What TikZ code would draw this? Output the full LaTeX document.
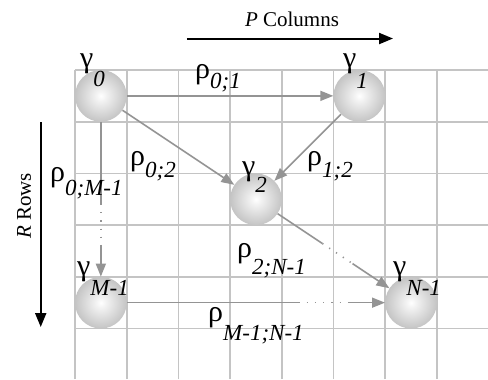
\documentclass[tikz,border=0pt]{standalone}
\usepackage{fontspec}
\setmainfont{Liberation Serif}
\usetikzlibrary{arrows.meta,calc}

\pgfdeclareradialshading{sphere}{\pgfpoint{0bp}{0bp}}{color(0bp)=(white); color(5bp)=(white!95!black); color(26bp)=(white!76!black); color(50bp)=(white!56!black)}
\colorlet{gridgray}{black!23}
\colorlet{linkgray}{black!42}
% greek symbol with a dropped italic index
\newcommand{\sym}[3]{{\fontsize{30}{30}\selectfont #1}\raisebox{-#3pt}{\fontsize{23}{23}\selectfont\itshape #2}}

\tikzset{
  ball/.style={circle,minimum size=51.7pt,inner sep=0pt,shading=sphere},
  link/.style={linkgray,line width=1.6pt},
  linkarrow/.style={link,-{Triangle[length=13pt,width=10pt]}},
  gap/.style={link,dash pattern=on 1.2pt off 7pt},
  lbl/.style={anchor=base west,inner sep=0pt,font=\fontsize{21}{21}\selectfont},
  axis/.style={line width=2pt,-{Triangle[length=14pt,width=11pt]}}
}

\begin{document}
\begin{tikzpicture}[x=51.7pt,y=51.7pt]
    \useasboundingbox (-1.4507,1.354) rectangle (7.988,-5.977);
    \draw[gridgray,line width=1.8pt,step=1] (0,0) grid (7.98,-5.98);

    % axes
    \coordinate (c0) at (2.166,0.609);
    \coordinate (c1) at (6.151,0.609);
    \draw[axis] (c0) -- (c1);
    \node[lbl,anchor=base] (cols) at (4.197,0.832) {\textit{P} Columns};
    \coordinate (r0) at (-0.663,-1.006);
    \coordinate (r1) at (-0.663,-4.971);
    \draw[axis] (r0) -- (r1);
    \node[lbl,anchor=center,rotate=90] (rows) at (-0.986,-2.63) {\textit{R} Rows};

    % spheres
    \node[ball] (g0) at (0.5,-0.5) {};
    \node[ball] (g1) at (5.5,-0.5) {};
    \node[ball] (g2) at (3.5,-2.5) {};
    \node[ball] (gM) at (0.5,-4.5) {};
    \node[ball] (gN) at (6.5,-4.5) {};

    % links
    \draw[linkarrow] (g0) -- (g1);
    \draw[linkarrow] (g0) -- (g2);
    \draw[linkarrow] (g1) -- (g2);
    \path (g0) -- (gM) coordinate[pos=0.53] (a1) coordinate[pos=0.8] (a2);
    \draw[link] (g0) -- (a1);
    \draw[gap] (a1) -- (a2);
    \draw[linkarrow] (a2) -- (gM);
    \path (g2) -- (gN) coordinate[pos=0.4] (b1) coordinate[pos=0.67] (b2);
    \draw[link] (g2) -- (b1);
    \draw[gap] (b1) -- (b2);
    \draw[linkarrow] (b2) -- (gN);
    \path (gM) -- (gN) coordinate[pos=0.665] (d1) coordinate[pos=0.86] (d2);
    \draw[link] (gM) -- (d1);
    \draw[gap] (d1) -- (d2);
    \draw[linkarrow] (d2) -- (gN);

    % labels
    \node[lbl] (l0)  at (0.097,0.039)   {\sym{γ}{0}{19}};
    \node[lbl] (l1)  at (5.184,0.058)   {\sym{γ}{1}{21}};
    \node[lbl] (l2)  at (3.230,-2.050)  {\sym{γ}{2}{17}};
    \node[lbl] (lM)  at (0.039,-3.965)  {\sym{γ}{M-1}{20}};
    \node[lbl] (lN)  at (6.151,-3.965)  {\sym{γ}{N-1}{20}};
    \node[lbl] (r01) at (2.321,-0.155)  {\sym{ρ}{0;1}{10}};
    \node[lbl] (r02) at (1.064,-1.838)  {\sym{ρ}{0;2}{12}};
    \node[lbl] (r12) at (4.487,-1.838)  {\sym{ρ}{1;2}{12}};
    \node[lbl] (r0M) at (-0.484,-2.147) {\sym{ρ}{0;M-1}{14}};
    \node[lbl] (r2N) at (3.133,-3.636)  {\sym{ρ}{2;N-1}{17}};
    \node[lbl] (rMN) at (2.573,-4.855)  {\sym{ρ}{M-1;N-1}{19}};
\end{tikzpicture}
\end{document}
